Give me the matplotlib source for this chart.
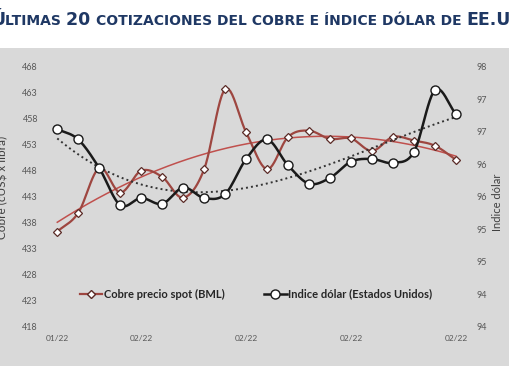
"""
Últimas 20 cotizaciones del cobre vs índice dólar (EE.UU.).
Líneas suavizadas tipo Excel + tendencias polinómicas.
"""
import numpy as np
import matplotlib
matplotlib.use("Agg")
import matplotlib.pyplot as plt
from matplotlib.lines import Line2D
from matplotlib.patches import Rectangle

# --- datos ---
cobre = [436.3, 439.9, 448.5, 443.8, 448.0, 446.8, 442.8, 448.3, 463.7, 455.4,
         448.3, 454.5, 455.7, 454.1, 454.2, 451.8, 454.5, 453.8, 452.8, 450.1]
dolar = [96.94, 96.78, 96.34, 95.77, 95.88, 95.79, 96.04, 95.88, 95.94, 96.48,
         96.78, 96.38, 96.10, 96.19, 96.44, 96.48, 96.42, 96.59, 97.54, 97.17]
xtick_pos = [0, 4, 9, 14, 19]
xtick_lab = ["01/22", "02/22", "02/22", "02/22", "02/22"]
left_ticks = [418, 423, 428, 433, 438, 443, 448, 453, 458, 463, 468]
right_ticks = [93.9, 94.4, 94.9, 95.4, 95.9, 96.4, 96.9, 97.4, 97.9]

RED = "#9E4640"
RED_TREND = "#C0504D"
DARK = "#1A1A1A"
TICK = "#595959"
FONT = ["Lato", "DejaVu Sans"]


def smooth(x, y, n=12):
    # Catmull-Rom uniforme, parecido al "suavizado" de Excel
    pts = np.column_stack([x, y]).astype(float)
    ext = np.vstack([2 * pts[0] - pts[1], pts, 2 * pts[-1] - pts[-2]])
    t = np.linspace(0, 1, n, endpoint=False)[:, None]
    out = []
    for i in range(len(pts) - 1):
        p0, p1, p2, p3 = ext[i:i + 4]
        out.append(0.5 * (2 * p1 + (-p0 + p2) * t + (2 * p0 - 5 * p1 + 4 * p2 - p3) * t ** 2
                          + (-p0 + 3 * p1 - 3 * p2 + p3) * t ** 3))
    out.append(pts[-1:])
    s = np.vstack(out)
    return s[:, 0], s[:, 1]


def main():
    plt.rcParams["font.family"] = FONT
    x = np.arange(len(cobre))
    fig = plt.figure(figsize=(5.1, 3.82), dpi=100)
    fig.patches.append(Rectangle((0, 0.0419), 1, 0.832, transform=fig.transFigure,
                                 facecolor="#D9D9D9", edgecolor="none", zorder=-10))

    ax = fig.add_axes([0.0882, 0.1448, 0.8333, 0.6806])
    ax2 = ax.twinx()
    for a in (ax, ax2):
        a.set_facecolor("none")
        for sp in a.spines.values():
            sp.set_visible(False)
        a.tick_params(length=0, labelsize=6.5, labelcolor=TICK)

    # tendencias polinómicas (cobre orden 2, dólar orden 3)
    xs = np.linspace(0, len(x) - 1, 200)
    pc = np.polyfit(x, cobre, 2)
    ax.plot(xs, np.polyval(pc, xs), color=RED_TREND, lw=1.1, zorder=2)
    pd_ = np.polyfit(x, dolar, 3)
    ax2.plot(xs, np.polyval(pd_, xs), color="#333333", lw=1.4, ls=(0, (1, 1.6)), zorder=2)

    sx, sy = smooth(x, cobre)
    ax.plot(sx, sy, color=RED, lw=1.6, zorder=3)
    ax.plot(x, cobre, ls="none", marker="D", ms=4.2, mfc="white", mec="#5a2a26",
            mew=0.9, zorder=4)
    sx, sy = smooth(x, dolar)
    ax2.plot(sx, sy, color=DARK, lw=1.8, zorder=3)
    ax2.plot(x, dolar, ls="none", marker="o", ms=6.5, mfc="white", mec=DARK,
             mew=1.0, zorder=4)

    ax.set_xlim(-0.586, 19.667)
    ax.set_ylim(418, 468)
    ax2.set_ylim(93.9, 97.9)
    ax.set_yticks(left_ticks)
    ax.set_yticklabels([str(v) for v in left_ticks])
    ax2.set_yticks(right_ticks)
    ax2.set_yticklabels([f"{v:.0f}" for v in right_ticks])
    ax.tick_params(axis="y", pad=5)
    ax2.tick_params(axis="y", pad=4.5)
    ax.set_xticks(xtick_pos)
    ax.set_xticklabels(xtick_lab, fontsize=6)
    ax.tick_params(axis="x", pad=6)

    fig.text(3 / 510, 1 - 187 / 382, r"Cobre (cUS\$ x libra)", rotation=90,
             ha="center", va="center", fontsize=8.5, color="#404040")
    fig.text(498 / 510, 1 - 202 / 382, "Indice dólar", rotation=90,
             ha="center", va="center", fontsize=8, color="#404040")

    handles = [Line2D([], [], color=RED, lw=1.6, marker="D", ms=4.2, mfc="white", mec="#5a2a26"),
               Line2D([], [], color=DARK, lw=1.8, marker="o", ms=6.5, mfc="white", mec=DARK)]
    leg = fig.legend(handles, ["Cobre precio spot (BML)", "Indice dólar (Estados Unidos)"],
                     loc="center", bbox_to_anchor=(0.502, 0.2304), ncol=2, frameon=False,
                     prop={"family": FONT, "weight": "bold", "size": 8}, handlelength=2.0,
                     handletextpad=0.1, columnspacing=3.6)
    for t in leg.get_texts():
        t.set_color("#262626")

    # título en versalitas, cortado en los bordes como en el original
    parts = [("Ú", 12.5), ("LTIMAS ", 10), ("20 ", 12.5),
             ("COTIZACIONES DEL COBRE E ÍNDICE DÓLAR DE ", 10), ("EE.UU.", 12.5)]
    fig.canvas.draw()
    r = fig.canvas.get_renderer()
    xpos = -9 / 510
    for s, size in parts:
        t = fig.text(xpos, 1 - 25 / 382, s, fontsize=size, fontweight="bold",
                     family="DejaVu Sans", color="#1F3864", ha="left", va="baseline")
        xpos = fig.transFigure.inverted().transform(t.get_window_extent(r))[1, 0]

    fig.savefig("out.png", dpi=100)


if __name__ == "__main__":
    main()
